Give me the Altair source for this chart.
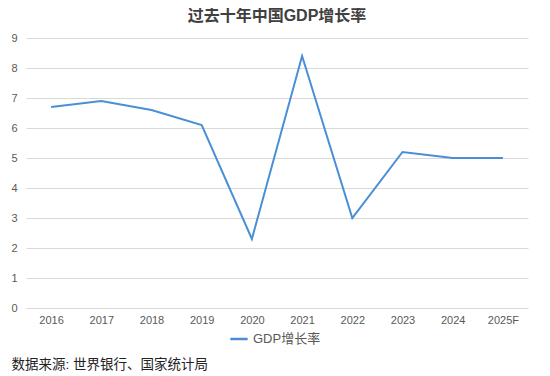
import altair as alt
import pandas as pd

years = ["2016", "2017", "2018", "2019", "2020", "2021", "2022", "2023", "2024", "2025F"]
gdp = [6.7, 6.9, 6.6, 6.1, 2.3, 8.4, 3.0, 5.2, 5.0, 5.0]
series = "GDP增长率"

df = pd.DataFrame({"year": years, "value": gdp, "series": [series] * len(years)})

FONT = "Liberation Sans, Noto Sans CJK SC, sans-serif"

chart = alt.Chart(df).mark_line(strokeWidth=2).encode(
    x=alt.X(
        "year:N",
        sort=years,
        scale=alt.Scale(paddingInner=0, paddingOuter=0),
        axis=alt.Axis(
            title="数据来源: 世界银行、国家统计局",
            titleAnchor="start",
            titleAlign="left",
            titleBaseline="middle",
            titleX=-15,
            titleY=56,
            titleFontSize=13.5,
            titleFontWeight="normal",
            titleColor="#222222",
            titleFont=FONT,
            labelAngle=0,
            labelFontSize=11,
            labelColor="#595959",
            labelFont=FONT,
            labelPadding=6,
            ticks=False,
            domain=False,
            grid=False,
        ),
    ),
    y=alt.Y(
        "value:Q",
        scale=alt.Scale(domain=[0, 9], nice=False),
        axis=alt.Axis(
            title=None,
            values=[0, 1, 2, 3, 4, 5, 6, 7, 8, 9],
            labelFontSize=11,
            labelColor="#595959",
            labelFont=FONT,
            labelPadding=9,
            ticks=False,
            domain=False,
            gridColor="#d9d9d9",
            gridWidth=1,
        ),
    ),
    color=alt.Color(
        "series:N",
        scale=alt.Scale(domain=[series], range=["#4a8fd6"]),
        legend=alt.Legend(
            title=None,
            orient="none",
            legendX=203,
            legendY=291,
            symbolType="stroke",
            symbolStrokeWidth=2.5,
            symbolSize=300,
            labelFontSize=13,
            labelColor="#595959",
            labelFont=FONT,
        ),
    ),
).properties(
    width=502,
    height=270,
    title=alt.TitleParams(
        "过去十年中国GDP增长率",
        fontSize=16,
        fontWeight="bold",
        color="#404040",
        font=FONT,
        anchor="middle",
        offset=8,
    ),
    padding={"left": 2, "top": 0, "right": 5, "bottom": 0},
).configure_view(stroke=None)

chart.save("out.html", embed_options={"renderer": "svg", "actions": False})
